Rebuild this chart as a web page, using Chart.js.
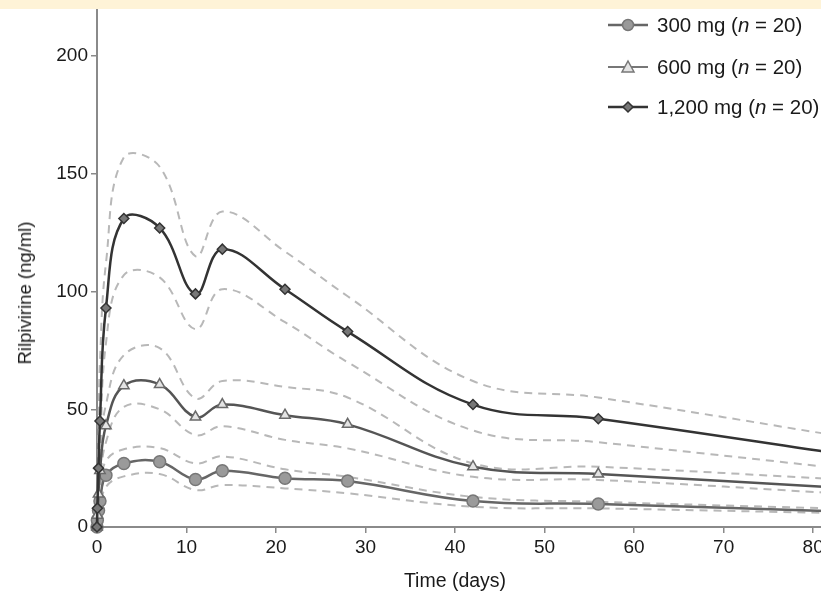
<!DOCTYPE html>
<html>
<head>
<meta charset="utf-8">
<script src="https://cdn.jsdelivr.net/npm/chart.js@4.4.0/dist/chart.umd.min.js"></script>
<style>
html, body { margin: 0; padding: 0; background: #fff; overflow: hidden; width: 821px; height: 594px; }
#wrap { position: absolute; left: 0; top: 0; width: 850px; height: 594px; }
#band { position: absolute; left: 0; top: 0; width: 821px; height: 9px; background: #fef3d7; z-index: 3; }
.txt { position: absolute; font-family: "Liberation Sans", Arial, sans-serif; color: #1a1a1a; white-space: nowrap; }
.leg { position: absolute; left: 608px; height: 20px; display: flex; align-items: center; font-family: "Liberation Sans", Arial, sans-serif; font-size: 20.5px; color: #1a1a1a; white-space: nowrap; }
.leg svg { margin-right: 9px; }
</style>
</head>
<body>
<div id="wrap"><canvas id="pk" width="850" height="594"></canvas></div>
<div id="band"></div>

<div class="leg" style="top:15px">
  <svg width="40" height="16"><line x1="0" y1="8" x2="40" y2="8" stroke="#666" stroke-width="2.5"/><circle cx="20" cy="8" r="5.5" fill="#999" stroke="#777" stroke-width="1.5"/></svg>
  <span>300 mg (<i>n</i> = 20)</span>
</div>
<div class="leg" style="top:57px">
  <svg width="40" height="16"><line x1="0" y1="8" x2="40" y2="8" stroke="#777" stroke-width="2"/><polygon points="20,2 26,13 14,13" fill="#e4e4e4" stroke="#777" stroke-width="1.5"/></svg>
  <span>600 mg (<i>n</i> = 20)</span>
</div>
<div class="leg" style="top:97px">
  <svg width="40" height="16"><line x1="0" y1="8" x2="40" y2="8" stroke="#333" stroke-width="2.5"/><polygon points="20,3 25,8 20,13 15,8" fill="#777" stroke="#333" stroke-width="1.5"/></svg>
  <span>1,200 mg (<i>n</i> = 20)</span>
</div>

<div class="txt" style="left:25px;top:293px;font-size:18.5px;transform:translate(-50%,-50%) rotate(-90deg);">Rilpivirine (ng/ml)</div>
<div class="txt" style="left:455px;top:580px;font-size:19.5px;transform:translate(-50%,-50%);">Time (days)</div>

<script>
// sampling times (days)
const days = [0, 0.04, 0.17, 0.33, 1, 3, 7, 11, 14, 21, 28, 42, 56, 84];

// 300 mg
const mean300  = [0, 3, 7, 11, 22, 27, 27.7, 20.2, 23.9, 20.7, 19.5, 11, 9.8, 6.5];
const upper300 = [0, 5, 10, 16, 28, 33, 33.5, 27, 30, 24.5, 21.3, 12.8, 10.7, 7.7];
const lower300 = [0, 1.5, 4, 7, 17, 21.5, 22.5, 15.7, 17.8, 16.4, 14.3, 8.6, 7.9, 5.8];

// 600 mg
const mean600  = [0, 5, 14, 24, 43, 60, 60.5, 46.7, 52, 47.5, 43.6, 25.6, 22.5, 16.5];
const upper600 = [0, 7, 18, 30, 52, 73, 76, 54.6, 62, 59.5, 55, 27, 25.6, 20];
const lower600 = [0, 3, 10, 18, 36, 51, 50, 39, 42.8, 37, 33.4, 21.3, 20, 14];

// 1,200 mg
const mean1200  = [0, 8, 25, 45, 93, 131, 127, 99, 118, 101, 83, 52, 46, 30.5];
const upper1200 = [0, 14, 40, 70, 112, 157, 153, 115, 134, 117, 98, 62, 55, 38];
const lower1200 = [0, 4, 14, 25, 78, 107, 106, 84, 101, 87, 70, 41, 36, 24.5];

const xTicks = [0, 10, 20, 30, 40, 50, 60, 70, 80];
const yTicks = [0, 50, 100, 150, 200];

const tickFont = { family: '"Liberation Sans", Arial, sans-serif', size: 19 };

function pts(vals) {
    return days.map((d, i) => ({ x: d, y: vals[i] }));
}

function band(vals) {
    return {
        data: pts(vals),
        borderColor: '#b8b8b8',
        borderWidth: 2,
        borderDash: [8, 6],
        pointRadius: 0,
        tension: 0.4,
        fill: false
    };
}

const ctx = document.getElementById('pk').getContext('2d');
const chart = new Chart(ctx, {
    type: 'line',
    data: {
        datasets: [
            {
                data: pts(mean1200),
                borderColor: '#333',
                borderWidth: 2.5,
                pointStyle: 'rectRot',
                pointRadius: 5,
                pointBackgroundColor: '#777',
                pointBorderColor: '#333',
                pointBorderWidth: 1.5,
                tension: 0.4,
                clip: false
            },
            {
                data: pts(mean600),
                borderColor: '#555',
                borderWidth: 2.5,
                pointStyle: 'triangle',
                pointRadius: 6,
                pointBackgroundColor: '#e4e4e4',
                pointBorderColor: '#6a6a6a',
                pointBorderWidth: 1.5,
                tension: 0.4,
                clip: false
            },
            {
                data: pts(mean300),
                borderColor: '#666',
                borderWidth: 2.5,
                pointStyle: 'circle',
                pointRadius: 6,
                pointBackgroundColor: '#9a9a9a',
                pointBorderColor: '#777',
                pointBorderWidth: 1.5,
                tension: 0.4,
                clip: false
            },
            band(upper1200), band(lower1200),
            band(upper600), band(lower600),
            band(upper300), band(lower300)
        ]
    },
    options: {
        responsive: false,
        animation: false,
        layout: { padding: { left: 0, right: 10, top: 9, bottom: 0 } },
        plugins: { legend: { display: false }, tooltip: { enabled: false } },
        scales: {
            x: {
                type: 'linear',
                min: 0,
                max: 83,
                afterBuildTicks: s => { s.ticks = xTicks.map(v => ({ value: v })); },
                afterFit: s => { s.height = 67; s.paddingLeft = 0; s.paddingRight = 0; },
                ticks: { color: '#1a1a1a', padding: 3, maxRotation: 0, font: tickFont },
                grid: { drawOnChartArea: false, drawTicks: true, tickLength: 6, color: '#8a8a8a', lineWidth: 1.5 },
                border: { display: true, color: '#8a8a8a', width: 2 }
            },
            y: {
                min: 0,
                max: 220,
                afterBuildTicks: s => { s.ticks = yTicks.map(v => ({ value: v })); },
                afterFit: s => { s.width = 97; s.paddingTop = 0; s.paddingBottom = 0; },
                ticks: { color: '#1a1a1a', padding: 3, font: tickFont },
                grid: { drawOnChartArea: false, drawTicks: true, tickLength: 6, color: '#8a8a8a', lineWidth: 1.5 },
                border: { display: true, color: '#8a8a8a', width: 2 }
            }
        }
    }
});
</script>
</body>
</html>
